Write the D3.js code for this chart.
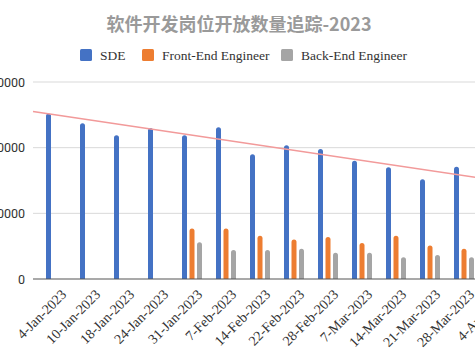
<!DOCTYPE html>
<html>
<head>
<meta charset="utf-8">
<script src="https://cdn.jsdelivr.net/npm/d3@7"></script>
<style>
  html, body { margin: 0; padding: 0; background: #fff; }
  svg { display: block; }
</style>
</head>
<body>
<svg id="chart" width="475" height="356"></svg>
<script>
const title = "软件开发岗位开放数量追踪-2023";
const categories = ["4-Jan-2023","10-Jan-2023","18-Jan-2023","24-Jan-2023","31-Jan-2023","7-Feb-2023","14-Feb-2023","22-Feb-2023","28-Feb-2023","7-Mar-2023","14-Mar-2023","21-Mar-2023","28-Mar-2023","4-Apr-2023"];
const seriesNames = ["SDE","Front-End Engineer","Back-End Engineer"];
const sdeValues = [25200,23700,21900,23000,21900,23100,19000,20350,19800,18000,17000,15200,17100,16500];
const frontEndValues = [null,null,null,null,7700,7700,6600,6000,6400,5500,6600,5100,4600,4400];
const backEndValues = [null,null,null,null,5600,4400,4400,4600,4000,4000,3300,3650,3300,3300];
const yTicks = [0,10000,20000,30000];
const trendCategories = ["4-Jan-2023","28-Mar-2023"];
const trendValues = [24990,15740];
const colors = ["#4472C4","#ED7D31","#A5A5A5"];

(function () {
const svg = d3.select("#chart");
const plotLeft = 33, plotRight = 530, plotTop = 82, plotBottom = 279;

const x = d3.scaleBand().domain(categories).range([39, 39 + 34 * categories.length]).padding(0);
const inner = d3.scaleBand().domain(seriesNames).range([-11.25, 11.25]).padding(0);
const y = d3.scaleLinear().domain([0, 30000]).range([plotBottom, plotTop]);

// title
svg.append("text")
  .attr("x", 239).attr("y", 31)
  .attr("text-anchor", "middle")
  .attr("font-family", "'Noto Sans CJK SC', sans-serif")
  .attr("font-weight", "bold")
  .attr("font-size", 18)
  .attr("fill", "#9a9a9a")
  .text(title);

// legend
const legendItems = [
  {name: seriesNames[0], x: 80, color: colors[0]},
  {name: seriesNames[1], x: 142, color: colors[1]},
  {name: seriesNames[2], x: 281, color: colors[2]}
];
const lg = svg.append("g");
legendItems.forEach(d => {
  lg.append("rect").attr("x", d.x).attr("y", 49).attr("width", 12).attr("height", 12)
    .attr("rx", 1.5).attr("fill", d.color);
  lg.append("text").attr("x", d.x + 20).attr("y", 59.5)
    .attr("font-family", "'Liberation Serif', serif").attr("font-size", 13.5)
    .attr("fill", "#333").text(d.name);
});

// grid lines
svg.append("g").selectAll("line").data(yTicks.filter(t => t > 0)).join("line")
  .attr("x1", plotLeft).attr("x2", plotRight)
  .attr("y1", d => y(d)).attr("y2", d => y(d))
  .attr("stroke", "#d9d9d9").attr("stroke-width", 1);

// y axis labels
const yAxis = d3.axisLeft(y).tickValues(yTicks).tickSize(0).tickPadding(0).tickFormat(d3.format("d"));
const yg = svg.append("g").attr("transform", "translate(25,0)").call(yAxis);
yg.select(".domain").remove();
yg.selectAll("text").attr("font-family", "Roboto, sans-serif").attr("font-size", 12.5).attr("fill", "#333");

// bars
const seriesData = [sdeValues, frontEndValues, backEndValues];
function barPath(cx, w, yTop, yBase) {
  const r = Math.min(w / 2, yBase - yTop);
  const x0 = cx - w / 2, x1 = cx + w / 2;
  return `M${x0},${yBase}V${yTop + r}A${r},${r} 0 0 1 ${x0 + r},${yTop}H${x1 - r}A${r},${r} 0 0 1 ${x1},${yTop + r}V${yBase}Z`;
}
seriesData.forEach((vals, si) => {
  const data = categories.map((c, i) => ({c, v: vals[i]})).filter(d => d.v != null);
  svg.append("g").selectAll("path").data(data).join("path")
    .attr("d", d => {
      const cx = x(d.c) + x.bandwidth() / 2 + inner(seriesNames[si]) + inner.bandwidth() / 2;
      return barPath(cx, 5, y(d.v), y(0));
    })
    .attr("fill", colors[si]);
});

// baseline
svg.append("line").attr("x1", plotLeft).attr("x2", plotRight)
  .attr("y1", y(0)).attr("y2", y(0)).attr("stroke", "#555").attr("stroke-width", 1.2);

// trend line (extended across plot)
const tx0 = x(trendCategories[0]) + x.bandwidth() / 2, tx1 = x(trendCategories[1]) + x.bandwidth() / 2;
const ty0 = y(trendValues[0]), ty1 = y(trendValues[1]);
const slope = (ty1 - ty0) / (tx1 - tx0);
svg.append("line")
  .attr("x1", plotLeft).attr("y1", ty0 + slope * (plotLeft - tx0))
  .attr("x2", plotRight).attr("y2", ty0 + slope * (plotRight - tx0))
  .attr("stroke", "#f29a9a").attr("stroke-width", 1.6);

// x labels
const xg = svg.append("g");
categories.forEach(c => {
  const cx = x(c) + x.bandwidth() / 2 + 9;
  xg.append("text")
    .attr("transform", `translate(${cx},293) rotate(-45)`)
    .attr("text-anchor", "end")
    .attr("dominant-baseline", "middle")
    .attr("font-family", "'Liberation Serif', serif")
    .attr("font-size", 14)
    .attr("fill", "#333")
    .text(c);
});
})();
</script>
</body>
</html>
